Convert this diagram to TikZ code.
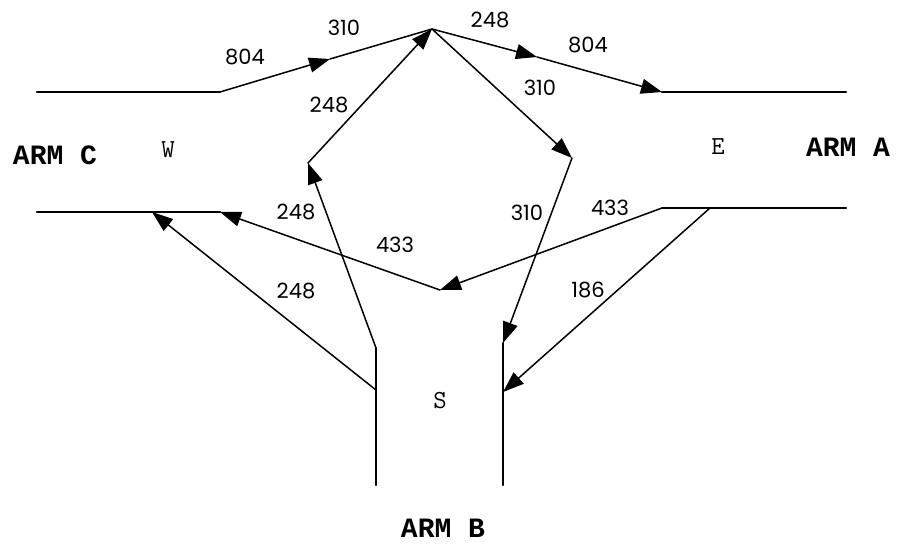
\documentclass[tikz,border=0pt]{standalone}
\usepackage{fontspec}
\newfontfamily\numfont{Poppins}
\newfontfamily\armfont{Liberation Mono}
\usetikzlibrary{arrows.meta}

\tikzset{
  road/.style={line width=2.2pt},
  flow/.style={line width=1.5pt, -{Triangle[length=21pt,width=15pt]}},
  leg/.style={line width=1.5pt},
  count/.style={font=\numfont\fontsize{21}{21}\selectfont},
  compass/.style={font=\ttfamily\fontsize{26}{26}\selectfont},
  armname/.style={font=\armfont\bfseries\fontsize{28}{28}\selectfont, inner sep=1pt},
}

\begin{document}
\begin{tikzpicture}[x=1pt, y=-1pt, line cap=round, line join=round]
  \useasboundingbox (0,0) rectangle (902,546);
  % junction points
  \foreach \n/\x/\y in {cwt/37/92, wt/220/92, cwb/37/212, wb/220/212, cb/152/212,
                        at/662/92, aet/846/92, ab/662/208, a2/710/208, aeb/846/208,
                        blt/376/348, blm/376/390, blb/376/485,
                        brt/503/343, brm/503/392, brb/503/485,
                        apex/432/29, pl/308/163, pr/572/158, vm/440/290,
                        m1/330/59, m2/537/57} {
    \coordinate (\n) at (\x,\y);
  }
  % road edges
  \draw[road] (cwt) -- (wt);
  \draw[road] (cwb) -- (wb);
  \draw[road] (at) -- (aet);
  \draw[road] (ab) -- (aeb);
  \draw[road] (blt) -- (blb);
  \draw[road] (brt) -- (brb);
  % turning flows
  \draw[flow] (wt) -- (m1);
  \draw[leg] (m1) -- (apex);
  \draw[flow] (apex) -- (m2);
  \draw[flow] (m2) -- (at);
  \draw[flow] (apex) -- (pr);
  \draw[flow] (pr) -- (brt);
  \draw[flow] (blt) -- (pl);
  \draw[flow] (pl) -- (apex);
  \draw[flow] (ab) -- (vm);
  \draw[flow] (vm) -- (wb);
  \draw[flow] (blm) -- (cb);
  \draw[flow] (a2) -- (brm);
  % volumes
  \foreach \x/\y/\t [count=\i] in {245/57/804, 344/28/310, 490/20/248, 588/45/804,
                                   329/105/248, 540/88/310, 296/212/248, 527/213/310,
                                   610/208/433, 395/245/433, 296/291/248, 588/290/186} {
    \node[count] (v\i) at (\x,\y) {\t};
  }
  \node[compass] (west) at (168,150) {W};
  \node[compass] (east) at (718,147) {E};
  \node[compass] (south) at (440,401) {S};
  \node[armname] (armc) at (55,155) {ARM C};
  \node[armname] (arma) at (848,147) {ARM A};
  \node[armname] (armb) at (443,528) {ARM B};
\end{tikzpicture}
\end{document}
